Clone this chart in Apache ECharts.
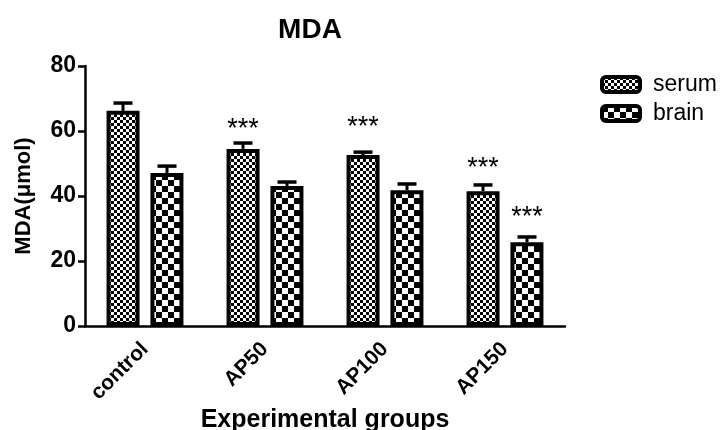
<!DOCTYPE html>
<html><head><meta charset="utf-8">
<script src="https://cdn.jsdelivr.net/npm/echarts@6/dist/echarts.min.js"></script>
<style>html,body{margin:0;padding:0;background:#fff;overflow:hidden;}#c{width:723px;height:430px;}</style>
</head><body><div id="c"></div>
<script>
var categories = ['control', 'AP50', 'AP100', 'AP150'];
var serumMean = [66.2, 54.5, 52.6, 41.5];
var serumErr = [2.4, 1.8, 0.9, 1.9];
var brainMean = [47.1, 43.1, 41.8, 25.8];
var brainErr = [2.1, 1.2, 1.9, 1.6];
var serumSig = ['', '***', '***', '***'];
var brainSig = ['', '', '', '***'];
var serumSigY = [null, 60.6, 61.2, 48.6];
var brainSigY = [null, null, null, 33.5];
var yTicks = [0, 20, 40, 60, 80];

function checker(cell) {
  var c = document.createElement('canvas');
  c.width = cell * 2; c.height = cell * 2;
  var g = c.getContext('2d');
  g.fillStyle = '#fff'; g.fillRect(0, 0, cell * 2, cell * 2);
  g.fillStyle = '#000';
  g.fillRect(0, 0, cell, cell);
  g.fillRect(cell, cell, cell, cell);
  return c;
}
var serumPat = { image: checker(3), repeat: 'repeat' };
var brainPat = { image: checker(6), repeat: 'repeat' };

var FONT = 'Liberation Sans, Arial, sans-serif';
var BAR_W = 33, OFFSET = 22;

function errSeries(name, means, errs, sigs, sigY, sign) {
  var data = means.map(function (m, i) { return [i, m, errs[i], sigY[i] == null ? -1 : sigY[i], sigs[i]]; });
  return {
    type: 'custom', name: name + '_err', silent: true, z: 5,
    data: data,
    renderItem: function (params, api) {
      var i = api.value(0), m = api.value(1), e = api.value(2), sy = api.value(3);
      var p0 = api.coord([i, m]);
      var p1 = api.coord([i, m + e]);
      var x = p0[0] + sign * OFFSET;
      var children = [
        { type: 'line', shape: { x1: x, y1: p0[1], x2: x, y2: p1[1] }, style: { stroke: '#000', lineWidth: 3 } },
        { type: 'line', shape: { x1: x - 9.5, y1: p1[1], x2: x + 9.5, y2: p1[1] }, style: { stroke: '#000', lineWidth: 3.5 } }
      ];
      var s = sigs[params.dataIndex];
      if (s && sy >= 0) {
        var ps = api.coord([i, sy]);
        children.push({ type: 'text', x: x, y: ps[1], style: { text: s, fill: '#000', font: '27px ' + FONT, align: 'center', verticalAlign: 'middle' } });
      }
      return { type: 'group', children: children };
    }
  };
}

var chart = echarts.init(document.getElementById('c'));
chart.setOption({
  animation: false,
  backgroundColor: '#fff',
  title: { text: 'MDA', left: 305, top: 11, textAlign: 'center', textStyle: { fontFamily: FONT, fontWeight: 'bold', fontSize: 28, color: '#000' } },
  legend: {
    data: ['serum', 'brain'], orient: 'vertical', left: 595, top: 68, itemWidth: 38, itemHeight: 15, itemGap: 6,
    icon: 'roundRect',
    itemStyle: { borderColor: '#000', borderWidth: 4 },
    textStyle: { fontFamily: FONT, fontSize: 23, color: '#000', padding: [0, 0, 0, 8] }
  },
  grid: { left: 85, right: 158, top: 66, bottom: 104, containLabel: false, outerBoundsMode: 'none' },
  xAxis: {
    type: 'category', data: categories,
    name: 'Experimental groups', nameLocation: 'middle', nameGap: 82, nameMoveOverlap: false,
    nameTextStyle: { fontFamily: FONT, fontWeight: 'bold', fontSize: 25, color: '#000' },
    axisLine: { lineStyle: { color: '#000', width: 2.5 } },
    axisTick: { alignWithLabel: true, length: 8, lineStyle: { color: '#000', width: 2.5 } },
    axisLabel: { rotate: 45, margin: 20, fontFamily: FONT, fontWeight: 'bold', fontSize: 21, color: '#000' }
  },
  yAxis: {
    type: 'value', min: 0, max: 80, interval: 20,
    name: 'MDA(μmol)', nameLocation: 'middle', nameGap: 50,
    nameTextStyle: { fontFamily: FONT, fontWeight: 'bold', fontSize: 22, color: '#000' },
    axisLine: { show: true, lineStyle: { color: '#000', width: 2.5 } },
    axisTick: { show: true, length: 7, lineStyle: { color: '#000', width: 2.5 } },
    splitLine: { show: false },
    axisLabel: { margin: 9, fontFamily: FONT, fontWeight: 'bold', fontSize: 23, color: '#000',
      formatter: function (v) { return yTicks.indexOf(v) >= 0 ? String(v) : ''; } }
  },
  series: [
    { type: 'bar', name: 'serum', data: serumMean, barWidth: BAR_W, barGap: '33%',
      itemStyle: { color: serumPat, borderColor: '#000', borderWidth: 4 } },
    { type: 'bar', name: 'brain', data: brainMean, barWidth: BAR_W,
      itemStyle: { color: brainPat, borderColor: '#000', borderWidth: 4 } },
    errSeries('serum', serumMean, serumErr, serumSig, serumSigY, -1),
    errSeries('brain', brainMean, brainErr, brainSig, brainSigY, 1)
  ]
});
</script></body></html>
